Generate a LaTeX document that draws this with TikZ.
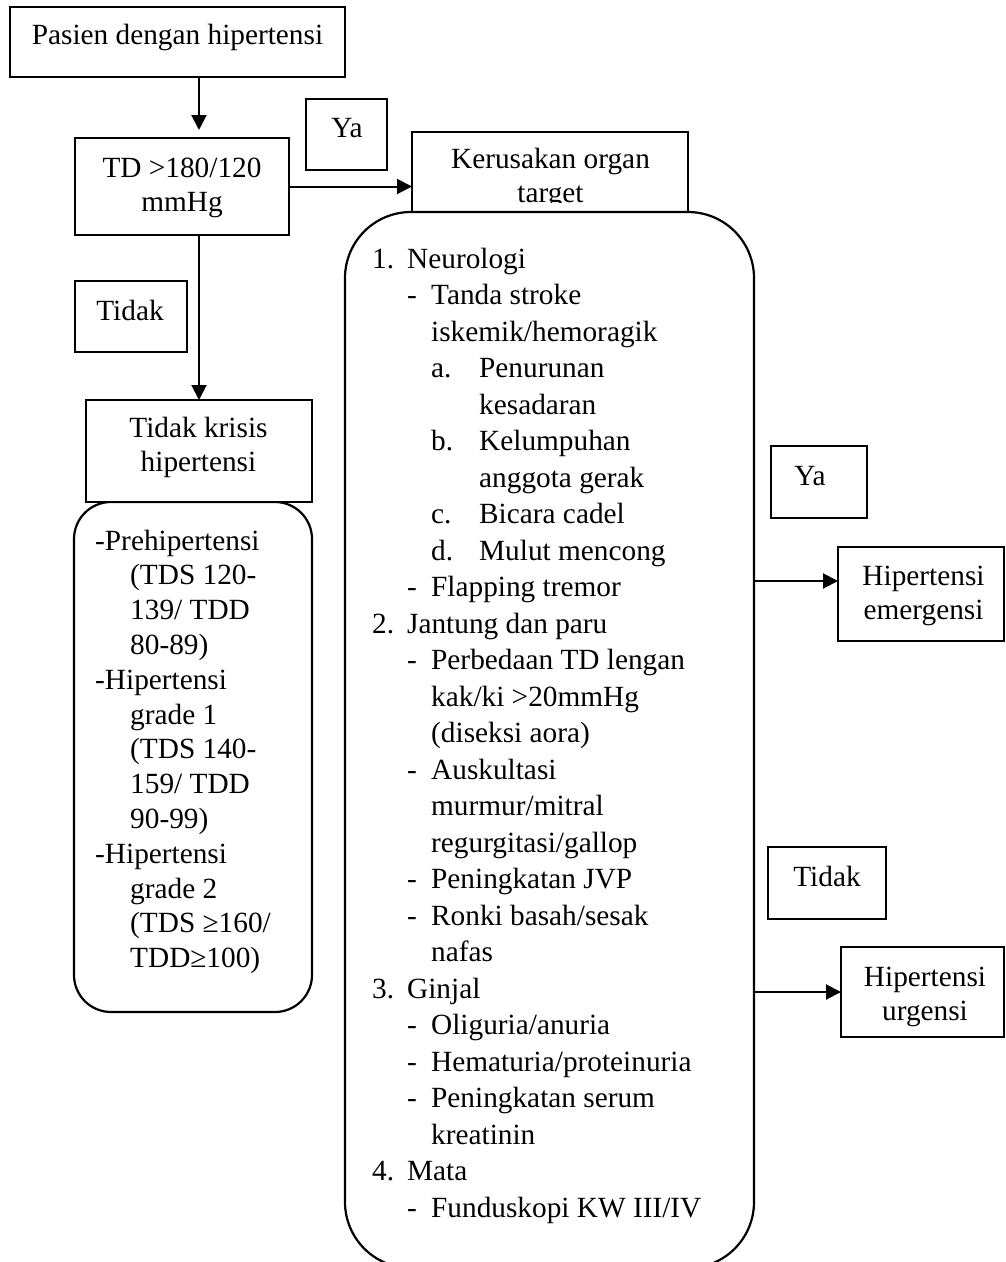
\documentclass[tikz,border=0pt]{standalone}
\usepackage{fontspec}
\setmainfont{Liberation Serif}
\usetikzlibrary{arrows.meta}
\newcommand{\fsbig}{\fontsize{29.3}{36.5}\selectfont}
\newcommand{\fsleft}{\fontsize{29.3}{34.8}\selectfont}
\newcommand{\fsbox}{\fontsize{29.3}{34.5}\selectfont}
\newcommand{\mylines}[1]{\begin{tabular}[t]{@{}c@{}}#1\end{tabular}}
\newcommand{\nb}[1]{\makebox[35pt][l]{#1}}
\newcommand{\db}{\hspace*{35pt}\makebox[24pt][l]{-}}
\newcommand{\lb}[1]{\hspace*{59pt}\makebox[48pt][l]{#1}}
\begin{document}
\begin{tikzpicture}[x=1pt,y=-1pt,
  box/.style={draw, line width=2.2pt, inner sep=0pt, outer sep=0pt, fill=white},
  rbox/.style={box, rounded corners=#1},
  arr/.style={line width=2pt, -{Triangle[length=15pt,width=15pt]}},
  txt/.style={inner sep=0pt, anchor=base, font=\fsbox}]
\useasboundingbox (0,0) rectangle (1005,1262);
\clip (0,0) rectangle (1005,1262);

% boxes
\node[box, minimum width=335pt, minimum height=70pt] (pasien) at (177.5,42) {};
\node[box, minimum width=214pt, minimum height=97pt] (td) at (182,186.5) {};
\node[box, minimum width=81pt, minimum height=71pt] (ya1) at (346.5,134.5) {};
\node[box, minimum width=276pt, minimum height=118pt] (ker) at (550,191) {};
\node[rbox=66pt, minimum width=409pt, minimum height=1056pt] (big) at (549.5,740) {};
\node[box, minimum width=112pt, minimum height=71pt] (tidak1) at (131,316.5) {};
\node[rbox=37pt, minimum width=238pt, minimum height=510pt] (leftr) at (193,757) {};
\node[box, minimum width=226pt, minimum height=102pt] (tk) at (199,451) {};
\node[box, minimum width=96pt, minimum height=72pt] (ya2) at (819,482) {};
\node[box, minimum width=166pt, minimum height=94pt] (emerg) at (921,594) {};
\node[box, minimum width=118pt, minimum height=72pt] (tidak2) at (827,883) {};
\node[box, minimum width=163pt, minimum height=90pt] (urg) at (922.5,992) {};

% texts
\node[txt] (pasien-t) at (177.5,44) {Pasien dengan hipertensi};
\node[txt] (td-t) at (182,177) {\mylines{TD >180/120\\mmHg}};
\node[txt] (ya1-t) at (347,137) {Ya};
\begin{scope}
  \clip (412,132) rectangle (688,202);
  \node[txt] (ker-t) at (550.5,168) {\mylines{Kerusakan organ\\target}};
\end{scope}
\node[txt] (tidak1-t) at (130,320) {Tidak};
\node[txt] (tk-t) at (198.5,437) {\mylines{Tidak krisis\\hipertensi}};
\node[txt] (ya2-t) at (810,485) {Ya};
\node[txt] (emerg-t) at (923.5,585) {\mylines{Hipertensi\\emergensi}};
\node[txt] (tidak2-t) at (827,886) {Tidak};
\node[txt] (urg-t) at (925,986) {\mylines{Hipertensi\\urgensi}};

\node[anchor=base west, inner sep=0pt, font=\fsleft] (left-t) at (95,550) {\parbox[t]{210pt}{%
-Prehipertensi\\
\hspace*{35pt}(TDS 120-\\
\hspace*{35pt}139/ TDD\\
\hspace*{35pt}80-89)\\
-Hipertensi\\
\hspace*{35pt}grade 1\\
\hspace*{35pt}(TDS 140-\\
\hspace*{35pt}159/ TDD\\
\hspace*{35pt}90-99)\\
-Hipertensi\\
\hspace*{35pt}grade 2\\
\hspace*{35pt}(TDS ≥160/\\
\hspace*{35pt}TDD≥100)}};

\node[anchor=base west, inner sep=0pt, font=\fsbig] (big-t) at (372,268) {\parbox[t]{380pt}{%
\nb{1.}Neurologi\\
\db Tanda stroke\\
\hspace*{59pt}iskemik/hemoragik\\
\lb{a.}Penurunan\\
\hspace*{107pt}kesadaran\\
\lb{b.}Kelumpuhan\\
\hspace*{107pt}anggota gerak\\
\lb{c.}Bicara cadel\\
\lb{d.}Mulut mencong\\
\db Flapping tremor\\
\nb{2.}Jantung dan paru\\
\db Perbedaan TD lengan\\
\hspace*{59pt}kak/ki >20mmHg\\
\hspace*{59pt}(diseksi aora)\\
\db Auskultasi\\
\hspace*{59pt}murmur/mitral\\
\hspace*{59pt}regurgitasi/gallop\\
\db Peningkatan JVP\\
\db Ronki basah/sesak\\
\hspace*{59pt}nafas\\
\nb{3.}Ginjal\\
\db Oliguria/anuria\\
\db Hematuria/proteinuria\\
\db Peningkatan serum\\
\hspace*{59pt}kreatinin\\
\nb{4.}Mata\\
\db Funduskopi KW III/IV}};

% connectors
\draw[arr, shorten >=8pt] (pasien.south -| tk.north) -- (td.north -| tk.north);
\draw[arr] (td.east) -- (td.east -| ker.west);
\draw[arr] (td.south -| tk.north) -- (tk.north);
\coordinate (e1) at (754,581);
\draw[arr] (e1) -- (e1 -| emerg.west);
\draw[arr] (urg.west -| big.east) -- (urg.west);
\end{tikzpicture}
\end{document}
